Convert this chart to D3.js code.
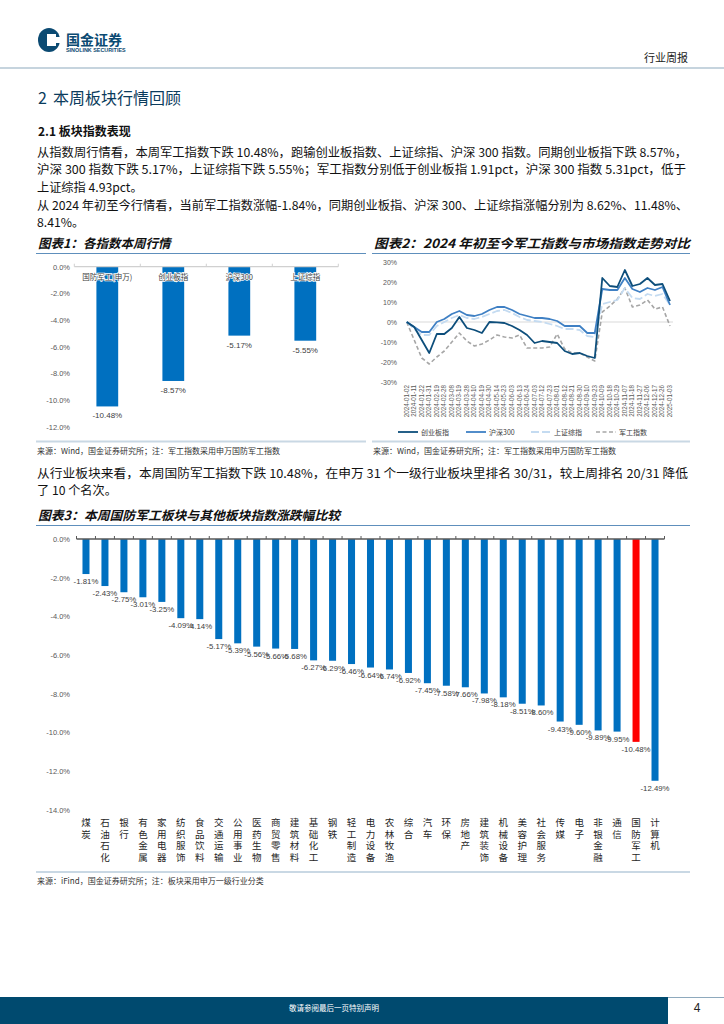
<!DOCTYPE html>
<html>
<head>
<meta charset="utf-8">
<script src="https://cdn.jsdelivr.net/npm/d3@7"></script>
<style>
body { margin: 0; background: #fff; }
svg { display: block; }
</style>
</head>
<body>
<div id="page"></div>
<script>
const W = 724
const H = 1024
const CJK = "'Noto Sans CJK SC', 'Noto Sans', sans-serif"
const ARIAL = "'Liberation Sans', Arial, sans-serif"

// 图表1 各指数本周行情
const idxNames = ["国防军工(申万)", "创业板指", "沪深300", "上证综指"]
const idxWeek = [-10.48, -8.57, -5.17, -5.55]
const idxTicks = [0, -2, -4, -6, -8, -10, -12]

// 图表2 2024年初至今走势 (%)
const dates = ["2024-01-02", "2024-01-11", "2024-01-22", "2024-01-31", "2024-02-19", "2024-02-28",
  "2024-03-08", "2024-03-19", "2024-03-28", "2024-04-10", "2024-04-19", "2024-04-30",
  "2024-05-14", "2024-05-23", "2024-06-03", "2024-06-13", "2024-06-24", "2024-07-03",
  "2024-07-12", "2024-07-23", "2024-08-01", "2024-08-12", "2024-08-21", "2024-08-30",
  "2024-09-10", "2024-09-23", "2024-10-09", "2024-10-18", "2024-10-29", "2024-11-07",
  "2024-11-18", "2024-11-27", "2024-12-06", "2024-12-17", "2024-12-26", "2025-01-03"]
const cyb = [0, -2.5, -9, -15.5, -6, -6, -3, 2.5, -3, -4, -5.5, 0, -0.2, -0.5, -2, -4, -6.5, -10.5,
  -9.5, -10, -10.5, -14.5, -16, -15.5, -17, -18, 22, 18, 17.5, 26, 18, 19, 22, 18.5, 19, 10.5]
const hs300 = [0, -2.5, -5, -5, 0, 1.5, 4, 5.5, 3.5, 3, 4, 6, 7.5, 7.5, 6, 4, 3, 2,
  2, 1.5, 0.5, -2, -2, -2, -5.5, -5.5, 16.5, 16, 16, 22, 16.5, 15, 17, 16, 17.5, 8.5]
const szzz = [0, -3.5, -6.5, -6.5, -2, 0, 2, 3.5, 2, 1.5, 2.5, 4, 5.5, 6, 4.5, 2.5, 1, 0.5,
  0, -1, -2, -3.5, -3.5, -4, -7, -7.5, 9, 10, 11, 17, 12, 11.5, 14, 13, 14, 8.5]
const jungong = [0, -9, -18, -21, -17.5, -14.5, -10, -5.5, -9.5, -12, -11, -9, -6.5, -7.5, -8, -6.5, -13, -13,
  -13, -12.5, -6, -13.5, -15.5, -15.5, -17.5, -19.5, 5, 8, 11.5, 17, 7.5, 8.5, 11, 6.5, 7.5, -2]
const trendTicks = [30, 20, 10, 0, -10, -20, -30]
const seriesNames = ["创业板指", "沪深300", "上证综指", "军工指数"]

// 图表3 申万一级行业本周涨跌幅
const sectors = ["煤炭", "石油石化", "银行", "有色金属", "家用电器", "纺织服饰", "食品饮料", "交通运输",
  "公用事业", "医药生物", "商贸零售", "建筑材料", "基础化工", "钢铁", "轻工制造", "电力设备",
  "农林牧渔", "综合", "汽车", "环保", "房地产", "建筑装饰", "机械设备", "美容护理", "社会服务",
  "传媒", "电子", "非银金融", "通信", "国防军工", "计算机"]
const sectorChg = [-1.81, -2.43, -2.75, -3.01, -3.25, -4.09, -4.14, -5.17, -5.39, -5.56, -5.66, -5.68,
  -6.27, -6.29, -6.46, -6.64, -6.74, -6.92, -7.45, -7.58, -7.66, -7.98, -8.18, -8.51, -8.60,
  -9.43, -9.60, -9.89, -9.95, -10.48, -12.49]
const sectorTicks = [0, -2, -4, -6, -8, -10, -12, -14]

const svg = d3.select("#page").append("svg")
    .attr("width", W)
    .attr("height", H)

// ---------- header ----------
svg.append("ellipse").attr("cx", 49).attr("cy", 40).attr("rx", 11).attr("ry", 12).attr("fill", "#0b4a72")
svg.append("rect").attr("x", 47).attr("y", 34).attr("width", 9).attr("height", 12).attr("fill", "#fff")
svg.append("rect").attr("x", 56).attr("y", 37).attr("width", 6).attr("height", 6).attr("fill", "#fff")
svg.append("text").attr("x", 66).attr("y", 45)
    .attr("font-family", CJK).attr("font-weight", "bold").attr("font-size", 14)
    .attr("fill", "#0b4a72").text("国金证券")
svg.append("text").attr("x", 66).attr("y", 52)
    .attr("font-family", ARIAL).attr("font-weight", "bold").attr("font-size", 5.4)
    .attr("fill", "#0b4a72").text("SINOLINK SECURITIES")
svg.append("text").attr("x", 688).attr("y", 62).attr("text-anchor", "end")
    .attr("font-family", CJK).attr("font-size", 11).attr("fill", "#222").text("行业周报")
svg.append("line").attr("x1", 0).attr("x2", W).attr("y1", 68).attr("y2", 68)
    .attr("stroke", "#8ea9bd").attr("stroke-width", 1.2)

svg.append("text").attr("x", 38).attr("y", 104)
    .attr("font-family", CJK).attr("font-size", 16).attr("fill", "#0b3c5d").text("2")
svg.append("text").attr("x", 53).attr("y", 104)
    .attr("font-family", CJK).attr("font-size", 16).attr("fill", "#0b3c5d").text("本周板块行情回顾")
svg.append("text").attr("x", 38).attr("y", 136)
    .attr("font-family", CJK).attr("font-weight", "bold").attr("font-size", 12).attr("fill", "#111")
    .text("2.1 板块指数表现")

// body text lines (full lines are justified)
const para = [
  {t: "从指数周行情看，本周军工指数下跌 10.48%，跑输创业板指数、上证综指、沪深 300 指数。同期创业板指下跌 8.57%，", y: 156.5, w: 650},
  {t: "沪深 300 指数下跌 5.17%，上证综指下跌 5.55%；军工指数分别低于创业板指 1.91pct，沪深 300 指数 5.31pct，低于", y: 174, w: 649},
  {t: "上证综指 4.93pct。", y: 191.5},
  {t: "从 2024 年初至今行情看，当前军工指数涨幅-1.84%，同期创业板指、沪深 300、上证综指涨幅分别为 8.62%、11.48%、", y: 209.5, w: 651},
  {t: "8.41%。", y: 227},
  {t: "从行业板块来看，本周国防军工指数下跌 10.48%，在申万 31 个一级行业板块里排名 30/31，较上周排名 20/31 降低", y: 477.5, w: 651},
  {t: "了 10 个名次。", y: 495}
]
para.forEach(p => {
  const t = svg.append("text").attr("x", 37).attr("y", p.y)
      .attr("font-family", CJK).attr("font-size", 12.2).attr("fill", "#111").text(p.t)
  if (p.w) t.attr("textLength", p.w).attr("lengthAdjust", "spacingAndGlyphs")
})

// chart titles + rules
function title(x, y, x2, txt, len) {
  const t = svg.append("text").attr("x", x).attr("y", y)
      .attr("font-family", CJK).attr("font-weight", "bold").attr("font-style", "italic")
      .attr("font-size", 12.5).attr("fill", "#111").text(txt)
  if (len) t.attr("textLength", len).attr("lengthAdjust", "spacingAndGlyphs")
  svg.append("line").attr("x1", x - 2).attr("x2", x2).attr("y1", y + 6).attr("y2", y + 6)
      .attr("stroke", "#5e8fbc").attr("stroke-width", 1.2)
}
title(38, 247.5, 366, "图表1：各指数本周行情")
title(374, 247.5, 690, "图表2：2024 年初至今军工指数与市场指数走势对比", 316)
title(38, 519.5, 690, "图表3：本周国防军工板块与其他板块指数涨跌幅比较", 302)

function source(x, y, x2, txt) {
  svg.append("line").attr("x1", x - 1).attr("x2", x2).attr("y1", y - 12).attr("y2", y - 12)
      .attr("stroke", "#c9d8e4").attr("stroke-width", 2)
  svg.append("text").attr("x", x).attr("y", y)
      .attr("font-family", CJK).attr("font-size", 8).attr("fill", "#333").text(txt)
}
source(37, 453.5, 366, "来源：Wind，国金证券研究所；注：军工指数采用申万国防军工指数")
source(373, 453.5, 690, "来源：Wind，国金证券研究所；注：军工指数采用申万国防军工指数")
source(37, 884, 690, "来源：iFind，国金证券研究所；注：板块采用申万一级行业分类")

// ---------- chart 1 ----------
const y1 = d3.scaleLinear().domain([-12, 0]).range([426.7, 266.7])
const x1 = d3.scaleBand().domain(idxNames).range([74.3, 338.3])
    .paddingInner(0.67).paddingOuter(0.335)

const g1 = svg.append("g")
g1.append("g")
    .attr("transform", "translate(72,0)")
    .call(d3.axisLeft(y1).tickValues(idxTicks).tickFormat(d => d.toFixed(1) + "%").tickSize(0).tickPadding(2))
    .call(g => g.select(".domain").remove())
    .selectAll("text").attr("font-family", ARIAL).attr("font-size", 7.5).attr("fill", "#595959")

g1.selectAll("rect.bar").data(idxWeek).enter().append("rect")
    .attr("class", "bar")
    .attr("x", (d, i) => x1(idxNames[i]))
    .attr("y", y1(0))
    .attr("width", x1.bandwidth())
    .attr("height", d => y1(d) - y1(0))
    .attr("fill", "#0070c0")

g1.append("line").attr("x1", x1.range()[0]).attr("x2", x1.range()[1])
    .attr("y1", y1(0)).attr("y2", y1(0)).attr("stroke", "#d0d0d0").attr("stroke-width", 1.2)
const b1 = idxNames.map(n => x1(n) + x1.bandwidth() / 2 - x1.step() / 2).concat([x1.range()[1]])
g1.selectAll("line.tk").data(b1).enter().append("line")
    .attr("class", "tk").attr("x1", d => d).attr("x2", d => d)
    .attr("y1", y1(0) - 3).attr("y2", y1(0)).attr("stroke", "#d0d0d0")

g1.selectAll("text.cat").data(idxNames).enter().append("text")
    .attr("class", "cat")
    .attr("x", d => x1(d) + x1.bandwidth() / 2)
    .attr("y", y1(0) + 13)
    .attr("text-anchor", "middle")
    .attr("font-family", CJK).attr("font-size", 7.5).attr("fill", "#404040")
    .attr("stroke", "#fff").attr("stroke-width", 1.5).attr("paint-order", "stroke")
    .text(d => d)

g1.selectAll("text.val").data(idxWeek).enter().append("text")
    .attr("class", "val")
    .attr("x", (d, i) => x1(idxNames[i]) + x1.bandwidth() / 2)
    .attr("y", d => y1(d) + 12)
    .attr("text-anchor", "middle")
    .attr("font-family", ARIAL).attr("font-size", 8).attr("fill", "#404040")
    .text(d => d.toFixed(2) + "%")

// ---------- chart 2 ----------
const y2 = d3.scaleLinear().domain([-30, 30]).range([382, 262])
const x2 = d3.scalePoint().domain(dates).range([406.7, 670])

const g2 = svg.append("g")
g2.append("g")
    .attr("transform", "translate(399,0)")
    .call(d3.axisLeft(y2).tickValues(trendTicks).tickFormat(d => d + "%").tickSize(0).tickPadding(2))
    .call(g => g.select(".domain").remove())
    .selectAll("text").attr("font-family", ARIAL).attr("font-size", 7).attr("fill", "#595959")

g2.append("line").attr("x1", x2.range()[0]).attr("x2", x2.range()[1] + 3)
    .attr("y1", y2(0)).attr("y2", y2(0)).attr("stroke", "#d9d9d9").attr("stroke-width", 1)

g2.selectAll("text.date").data(dates).enter().append("text")
    .attr("class", "date")
    .attr("transform", d => `translate(${x2(d) + 2},385) rotate(-90)`)
    .attr("text-anchor", "end")
    .attr("font-family", ARIAL).attr("font-size", 6.3).attr("fill", "#595959")
    .text(d => d)

const styles = [
  {data: cyb, color: "#0d4e7b", dash: null, w: 1.8},
  {data: hs300, color: "#3f80c4", dash: null, w: 1.8},
  {data: szzz, color: "#c4dbf1", dash: "8,3", w: 1.8},
  {data: jungong, color: "#a6a6a6", dash: "4,2.5", w: 1.6}
]
const line = d3.line().x((d, i) => x2(dates[i])).y(d => y2(d))
;[3, 2, 1, 0].forEach(k => {
  const s = styles[k]
  g2.append("path").datum(s.data)
      .attr("d", line)
      .attr("fill", "none")
      .attr("stroke", s.color)
      .attr("stroke-width", s.w)
      .attr("stroke-dasharray", s.dash)
      .attr("stroke-linejoin", "round")
})

// legend
const legX = [398, 466, 531, 596]
seriesNames.forEach((n, k) => {
  const s = styles[k]
  g2.append("line").attr("x1", legX[k]).attr("x2", legX[k] + 20).attr("y1", 432).attr("y2", 432)
      .attr("stroke", s.color).attr("stroke-width", s.w).attr("stroke-dasharray", s.dash)
  g2.append("text").attr("x", legX[k] + 23).attr("y", 434.5)
      .attr("font-family", CJK).attr("font-size", 7).attr("fill", "#404040").text(n)
})

// ---------- chart 3 ----------
const y3 = d3.scaleLinear().domain([-14, 0]).range([810, 539])
const x3 = d3.scaleBand().domain(sectors).range([76.5, 664.5])
    .paddingInner(0.63).paddingOuter(0.315)

const g3 = svg.append("g")
g3.append("g")
    .attr("transform", "translate(72,0)")
    .call(d3.axisLeft(y3).tickValues(sectorTicks).tickFormat(d => d.toFixed(1) + "%").tickSize(0).tickPadding(2))
    .call(g => g.select(".domain").remove())
    .selectAll("text").attr("font-family", ARIAL).attr("font-size", 7.5).attr("fill", "#595959")

g3.selectAll("rect.bar").data(sectorChg).enter().append("rect")
    .attr("class", "bar")
    .attr("x", (d, i) => x3(sectors[i]))
    .attr("y", y3(0))
    .attr("width", x3.bandwidth())
    .attr("height", d => y3(d) - y3(0))
    .attr("fill", (d, i) => sectors[i] === "国防军工" ? "#ff0000" : "#0070c0")

g3.append("line").attr("x1", x3.range()[0]).attr("x2", x3.range()[1])
    .attr("y1", y3(0)).attr("y2", y3(0)).attr("stroke", "#595959").attr("stroke-width", 1.5)
const b3 = sectors.map(n => x3(n) + x3.bandwidth() / 2 - x3.step() / 2).concat([x3.range()[1]])
g3.selectAll("line.tk").data(b3).enter().append("line")
    .attr("class", "tk").attr("x1", d => d).attr("x2", d => d)
    .attr("y1", y3(0) - 3).attr("y2", y3(0)).attr("stroke", "#595959")

g3.selectAll("text.val").data(sectorChg).enter().append("text")
    .attr("class", "val")
    .attr("x", (d, i) => x3(sectors[i]) + x3.bandwidth() / 2)
    .attr("y", d => y3(d) + 10)
    .attr("text-anchor", "middle")
    .attr("font-family", ARIAL).attr("font-size", 7.8).attr("fill", "#404040")
    .text(d => d.toFixed(2) + "%")

// vertical category labels, one glyph per line
const cats = g3.selectAll("text.cat").data(sectors).enter().append("text")
    .attr("class", "cat")
    .attr("text-anchor", "middle")
    .attr("font-family", CJK).attr("font-size", 9.5).attr("fill", "#262626")
cats.each(function (d) {
  const cx = x3(d) + x3.bandwidth() / 2
  d3.select(this).selectAll("tspan").data(d.split("")).enter().append("tspan")
      .attr("x", cx)
      .attr("y", (c, j) => 826 + j * 11.5)
      .text(c => c)
})

// ---------- footer ----------
svg.append("rect").attr("x", 0).attr("y", 997).attr("width", 668).attr("height", 27).attr("fill", "#004a6f")
svg.append("line").attr("x1", 668).attr("x2", W).attr("y1", 997.5).attr("y2", 997.5)
    .attr("stroke", "#8ea9bd").attr("stroke-width", 1)
svg.append("text").attr("x", 334).attr("y", 1010.5).attr("text-anchor", "middle")
    .attr("font-family", CJK).attr("font-size", 7.5).attr("fill", "#fff").text("敬请参阅最后一页特别声明")
svg.append("text").attr("x", 697).attr("y", 1012).attr("text-anchor", "middle")
    .attr("font-family", ARIAL).attr("font-size", 12).attr("fill", "#222").text("4")
</script>
</body>
</html>
